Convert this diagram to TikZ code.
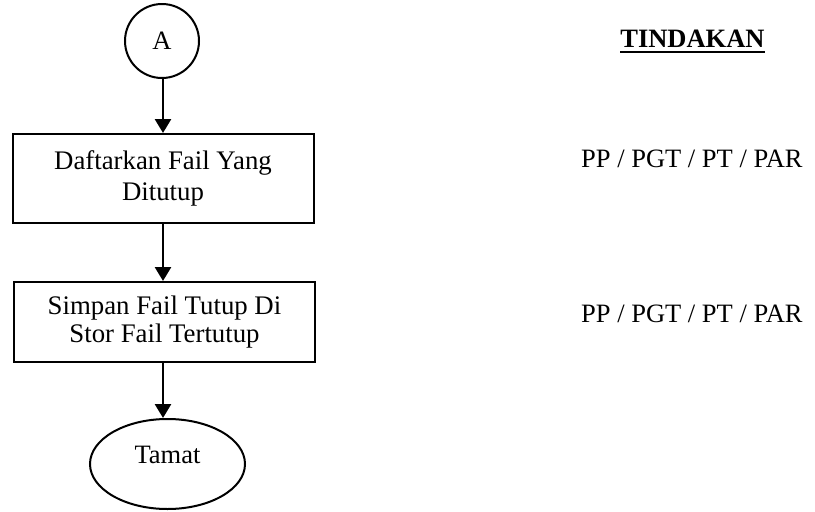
\documentclass[tikz,border=0pt]{standalone}
\usepackage{fontspec}
\setmainfont{Liberation Serif}
\usetikzlibrary{arrows.meta,shapes.geometric,calc}
\tikzset{
  boxstyle/.style={draw, line width=2pt, rectangle, align=center, inner sep=0pt},
  arr/.style={line width=2.6pt, -{Triangle[width=16pt,length=14pt]}},
  txt/.style={inner sep=0pt, font=\fontsize{26.5pt}{29pt}\selectfont},
}
\begin{document}
\begin{tikzpicture}[x=1pt,y=-1pt]
\useasboundingbox (0,0) rectangle (815,512);
\node[draw, circle, line width=2pt, minimum size=74pt, inner sep=0pt, font=\fontsize{26.5pt}{29pt}\selectfont] (A) at (162,41) {A};
\node[boxstyle, minimum width=301pt, minimum height=89pt, font=\fontsize{26.8pt}{31pt}\selectfont] (b1) at (163,178.5) {Daftarkan Fail Yang\\Ditutup};
\node[boxstyle, minimum width=301pt, minimum height=80pt, font=\fontsize{26.8pt}{28pt}\selectfont] (b2) at (164.5,322) {Simpan Fail Tutup Di\\Stor Fail Tertutup};
\node[draw, ellipse, line width=2pt, minimum width=155pt, minimum height=90pt, inner sep=0pt, text depth=17.5pt, font=\fontsize{26.5pt}{29pt}\selectfont] (T) at (167.5,464) {Tamat};
\draw[arr] (A.south -| b1.north) -- (b1.north);
\draw[arr] (b1.south) -- (b1.south |- b2.north);
\draw[arr] (b1.south |- b2.south) -- (b1.south |- T.north);
\node[txt, anchor=base, font=\fontsize{26.5pt}{29pt}\selectfont\bfseries] (tk) at (692.5,47) {TINDAKAN};
\draw[line width=2pt] ([yshift=-4.5pt]tk.base west) -- ([yshift=-4.5pt]tk.base east);
\node[txt, anchor=base west] (r1) at (581,167) {PP / PGT / PT / PAR};
\node[txt, anchor=base west] (r2) at (581,322) {PP / PGT / PT / PAR};
\end{tikzpicture}
\end{document}
